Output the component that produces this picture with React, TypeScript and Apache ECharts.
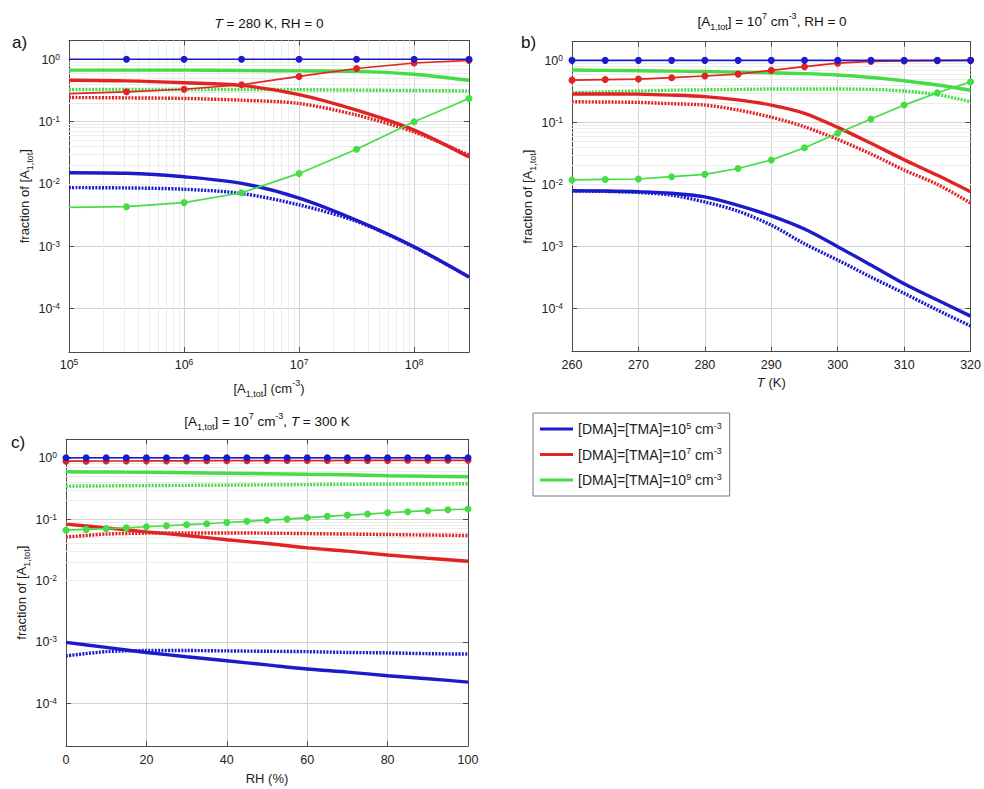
import React, { useEffect, useRef } from 'react';
import * as echarts from 'echarts';

const FONT = '"Liberation Sans", Arial, Helvetica, sans-serif';
const BLUE = '#1b1bc9';
const RED = '#e02424';
const GREEN = '#46dc46';
const AXIS = '#4a4a4a';
const GRID_MAJOR = '#d2d2d2';
const GRID_MINOR = '#ececec';

// ---------- Panel a: x = [A1,tot] (cm^-3), T = 280 K, RH = 0 ----------
const A_X = [1e5, 3.16e5, 1e6, 3.16e6, 1e7, 3.16e7, 1e8, 3e8];
const A_BLUE_MARK = [1.0, 1.0, 1.0, 1.0, 1.0, 1.0, 1.0, 1.0];
const A_BLUE_SOLID = [0.0151, 0.0148, 0.013, 0.0102, 0.0059, 0.0026, 0.00098, 0.00032];
const A_BLUE_DOT = [0.0087, 0.0086, 0.0082, 0.007, 0.0046, 0.0025, 0.00096, 0.00032];
const A_RED_MARK = [0.28, 0.3, 0.33, 0.39, 0.53, 0.71, 0.87, 0.96];
const A_RED_SOLID = [0.46, 0.45, 0.42, 0.38, 0.27, 0.152, 0.073, 0.027];
const A_RED_DOT = [0.243, 0.24, 0.235, 0.22, 0.195, 0.127, 0.068, 0.029];
const A_GREEN_MARK = [0.0042, 0.0043, 0.005, 0.0072, 0.0147, 0.036, 0.099, 0.234];
const A_GREEN_SOLID = [0.67, 0.67, 0.67, 0.66, 0.65, 0.64, 0.575, 0.46];
const A_GREEN_DOT = [0.327, 0.327, 0.327, 0.327, 0.325, 0.32, 0.315, 0.31];

// ---------- Panel b: x = T (K), [A1,tot] = 1e7, RH = 0 ----------
const B_X = [260, 265, 270, 275, 280, 285, 290, 295, 300, 305, 310, 315, 320];
const B_BLUE_MARK = [1.0, 1.0, 1.0, 1.0, 1.0, 1.0, 1.0, 1.0, 1.0, 1.0, 1.0, 1.0, 1.0];
const B_BLUE_SOLID = [0.0079, 0.0078, 0.0076, 0.0072, 0.0063, 0.0046, 0.0031, 0.0019, 0.00099, 0.0005, 0.00025, 0.000136, 0.000075];
const B_BLUE_DOT = [0.0078, 0.0077, 0.0074, 0.0067, 0.0052, 0.0037, 0.0022, 0.0011, 0.0006, 0.00032, 0.000175, 0.000094, 0.000052];
const B_RED_MARK = [0.48, 0.49, 0.5, 0.525, 0.56, 0.6, 0.69, 0.79, 0.9, 0.96, 0.98, 0.99, 1.0];
const B_RED_SOLID = [0.287, 0.287, 0.285, 0.275, 0.26, 0.23, 0.19, 0.14, 0.083, 0.046, 0.025, 0.014, 0.0076];
const B_RED_DOT = [0.215, 0.213, 0.21, 0.2, 0.19, 0.158, 0.121, 0.085, 0.053, 0.031, 0.017, 0.01, 0.005];
const B_GREEN_MARK = [0.0118, 0.012, 0.0122, 0.0133, 0.0145, 0.018, 0.0247, 0.039, 0.0667, 0.113, 0.19, 0.3, 0.45];
const B_GREEN_SOLID = [0.7, 0.69, 0.68, 0.67, 0.66, 0.645, 0.63, 0.61, 0.58, 0.53, 0.47, 0.4, 0.33];
const B_GREEN_DOT = [0.3, 0.31, 0.32, 0.33, 0.335, 0.34, 0.345, 0.345, 0.345, 0.34, 0.32, 0.28, 0.215];

// ---------- Panel c: x = RH (%), [A1,tot] = 1e7, T = 300 K ----------
const C_X_MARK = [0, 5, 10, 15, 20, 25, 30, 35, 40, 45, 50, 55, 60, 65, 70, 75, 80, 85, 90, 95, 100];
const C_BLUE_MARK = [1.0, 1.0, 1.0, 1.0, 1.0, 1.0, 1.0, 1.0, 1.0, 1.0, 1.0, 1.0, 1.0, 1.0, 1.0, 1.0, 1.0, 1.0, 1.0, 1.0, 1.0];
const C_RED_MARK = [0.88, 0.88, 0.885, 0.885, 0.89, 0.89, 0.89, 0.895, 0.895, 0.895, 0.9, 0.9, 0.9, 0.9, 0.905, 0.905, 0.905, 0.91, 0.91, 0.91, 0.91];
const C_GREEN_MARK = [0.066, 0.068, 0.07, 0.072, 0.075, 0.078, 0.081, 0.084, 0.088, 0.092, 0.096, 0.1, 0.106, 0.111, 0.116, 0.121, 0.127, 0.132, 0.137, 0.142, 0.146];
const C_X_LINE = [0, 10, 20, 30, 40, 50, 60, 70, 80, 90, 100];
const C_BLUE_SOLID = [0.00098, 0.00081, 0.00067, 0.00057, 0.00049, 0.00042, 0.00036, 0.00032, 0.00028, 0.00025, 0.00022];
const C_BLUE_DOT = [0.00059, 0.00069, 0.00072, 0.00072, 0.00071, 0.0007, 0.00069, 0.00067, 0.00066, 0.00064, 0.00063];
const C_RED_SOLID = [0.083, 0.072, 0.062, 0.054, 0.046, 0.04, 0.034, 0.03, 0.026, 0.023, 0.0206];
const C_RED_DOT = [0.051, 0.057, 0.059, 0.0595, 0.0595, 0.059, 0.058, 0.057, 0.056, 0.055, 0.054];
const C_GREEN_SOLID = [0.59, 0.585, 0.58, 0.57, 0.56, 0.55, 0.54, 0.53, 0.51, 0.5, 0.49];
const C_GREEN_DOT = [0.345, 0.348, 0.352, 0.355, 0.358, 0.362, 0.365, 0.368, 0.371, 0.374, 0.377];

// ---------- axes / legend texts ----------
const Y_MIN = 2e-5;
const Y_MAX = 2;
const A_X_MIN = 1e5;
const A_X_MAX = 3e8;
const MINOR_MULT = [2, 3, 4, 5, 6, 7, 8, 9];
const Y_DECADES = [-5, -4, -3, -2, -1, 0];
const A_DECADES = [5, 6, 7, 8];
const SERIES_NAMES = ['c5', 'c7', 'c9'];
const LEGEND_LABELS: Record<string, string> = {
  c5: '[DMA]=[TMA]=10{s|5} cm{s|-3}',
  c7: '[DMA]=[TMA]=10{s|7} cm{s|-3}',
  c9: '[DMA]=[TMA]=10{s|9} cm{s|-3}',
};

const Y_MINOR = Y_DECADES.flatMap((e) => MINOR_MULT.map((m) => m * Math.pow(10, e))).filter(
  (v) => v > Y_MIN * 1.001 && v < Y_MAX * 0.999
);
const A_X_MINOR = A_DECADES.flatMap((e) => MINOR_MULT.map((m) => m * Math.pow(10, e))).filter(
  (v) => v < A_X_MAX * 0.999
);

const powFmt = (v: number) => {
  const e = Math.log10(v);
  const r = Math.round(e);
  if (Math.abs(e - r) > 1e-6) return '';
  return `{b|10}{s|${r}}`;
};

const tickRich = {
  b: { fontFamily: FONT, fontSize: 12.5, color: '#222', lineHeight: 14, verticalAlign: 'bottom' },
  s: { fontFamily: FONT, fontSize: 8.5, color: '#222', lineHeight: 9, verticalAlign: 'top', padding: [0, 0, 12, 0] },
};

const nameRich = {
  sub: { fontFamily: FONT, fontSize: 9, color: '#222', lineHeight: 10, verticalAlign: 'bottom' },
  sup: { fontFamily: FONT, fontSize: 9, color: '#222', lineHeight: 10, verticalAlign: 'top' },
  i: { fontFamily: FONT, fontSize: 13, color: '#222', fontStyle: 'italic', lineHeight: 20 },
};

const nameStyle = {
  fontFamily: FONT,
  fontSize: 13,
  color: '#222',
  lineHeight: 20,
  rich: nameRich,
};

function mainX(gridIndex: number, cfg: any) {
  return {
    gridIndex,
    position: 'bottom',
    ...cfg,
    axisLine: { show: true, onZero: false, lineStyle: { color: AXIS, width: 1 } },
    axisTick: { show: true, inside: true, length: 5, lineStyle: { color: AXIS } },
    splitLine: { show: true, lineStyle: { color: GRID_MAJOR, width: 1 } },
    nameLocation: 'middle',
    nameTextStyle: nameStyle,
  };
}
function topX(gridIndex: number, cfg: any) {
  return {
    gridIndex,
    position: 'top',
    ...cfg,
    axisLine: { show: true, onZero: false, lineStyle: { color: AXIS, width: 1 } },
    axisTick: { show: true, inside: true, length: 5, lineStyle: { color: AXIS } },
    axisLabel: { show: false },
    splitLine: { show: false },
  };
}
function mainY(gridIndex: number, nameGap: number) {
  return {
    gridIndex,
    type: 'log',
    min: Y_MIN,
    max: Y_MAX,
    position: 'left',
    axisLine: { show: true, onZero: false, lineStyle: { color: AXIS, width: 1 } },
    axisTick: { show: true, inside: true, length: 5, lineStyle: { color: AXIS } },
    axisLabel: { formatter: powFmt, rich: tickRich, margin: 9 },
    splitLine: { show: true, lineStyle: { color: GRID_MAJOR, width: 1 } },
    name: 'fraction of [A{sub|1,tot}]',
    nameLocation: 'middle',
    nameRotate: 90,
    nameGap,
    nameTextStyle: nameStyle,
  };
}
function rightY(gridIndex: number) {
  return {
    gridIndex,
    type: 'log',
    min: Y_MIN,
    max: Y_MAX,
    position: 'right',
    axisLine: { show: true, onZero: false, lineStyle: { color: AXIS, width: 1 } },
    axisTick: { show: true, inside: true, length: 5, lineStyle: { color: AXIS } },
    axisLabel: { show: false },
    splitLine: { show: false },
  };
}

function pairs(xs: number[], ys: number[]) {
  return xs.map((x, i) => [x, ys[i]]);
}

function solid(name: string, color: string, ax: number, xs: number[], ys: number[]) {
  return {
    type: 'line', name, xAxisIndex: ax, yAxisIndex: ax, data: pairs(xs, ys),
    symbol: 'none', smooth: 0.3, silent: true, z: 3,
    lineStyle: { color, width: 3.4 }, itemStyle: { color },
  };
}
function dotted(name: string, color: string, ax: number, xs: number[], ys: number[]) {
  return {
    type: 'line', name, xAxisIndex: ax, yAxisIndex: ax, data: pairs(xs, ys),
    symbol: 'none', smooth: 0.3, silent: true, z: 3,
    lineStyle: { color, width: 3.4, type: [2, 1.3] }, itemStyle: { color },
  };
}
function marked(name: string, color: string, ax: number, xs: number[], ys: number[], skipFirst = false) {
  return {
    type: 'line', name, xAxisIndex: ax, yAxisIndex: ax,
    data: xs.map((x, i) => (skipFirst && i === 0 ? { value: [x, ys[i]], symbol: 'none' } : [x, ys[i]])),
    symbol: 'circle', symbolSize: 7, showAllSymbol: true, silent: true, z: 4,
    lineStyle: { color, width: 1.7 }, itemStyle: { color },
  };
}
function gridLines(ax: number, xMinor: number[]) {
  return {
    type: 'line', name: 'grid', xAxisIndex: ax, yAxisIndex: ax, data: [], silent: true,
    markLine: {
      silent: true, symbol: 'none', z: 1, animation: false,
      label: { show: false },
      lineStyle: { color: GRID_MINOR, width: 1, type: 'solid' },
      emphasis: { disabled: true },
      data: [...Y_MINOR.map((v) => ({ yAxis: v })), ...xMinor.map((v) => ({ xAxis: v }))],
    },
  };
}

const titleRich = {
  i: { fontFamily: FONT, fontSize: 13.5, fill: '#111', fontStyle: 'italic', lineHeight: 20 },
  sub: { fontFamily: FONT, fontSize: 9, fill: '#111', lineHeight: 10, verticalAlign: 'bottom' },
  sup: { fontFamily: FONT, fontSize: 9, fill: '#111', lineHeight: 10, verticalAlign: 'top' },
};
function titleText(x: number, y: number, text: string) {
  return {
    type: 'text', x, y, silent: true,
    style: {
      text, fontFamily: FONT, fontSize: 13.5, fill: '#111', lineHeight: 20,
      align: 'center', verticalAlign: 'middle', textAlign: 'center', textVerticalAlign: 'middle',
      rich: titleRich,
    },
  };
}
function letter(x: number, y: number, text: string) {
  return {
    type: 'text', x, y, silent: true,
    style: {
      text, fontFamily: FONT, fontSize: 17, fill: '#111',
      align: 'left', verticalAlign: 'middle', textAlign: 'left', textVerticalAlign: 'middle',
    },
  };
}

export default function App() {
  const ref = useRef<HTMLDivElement>(null);
  useEffect(() => {
    document.body.style.margin = '0';
    if (!ref.current) return;
    const chart = echarts.init(ref.current, undefined, { renderer: 'svg' });
    const [n5, n7, n9] = SERIES_NAMES;
    const option: any = {
      animation: false,
      backgroundColor: '#ffffff',
      grid: [
        { left: 69, top: 40.5, width: 400, height: 311.5 },
        { left: 572, top: 41.7, width: 401, height: 310 },
        { left: 66, top: 439.3, width: 402, height: 310.7 },
      ],
      xAxis: [
        mainX(0, {
          type: 'log', min: A_X_MIN, max: A_X_MAX,
          axisLabel: { formatter: powFmt, rich: tickRich, margin: 5 },
          name: '[A{sub|1,tot}] (cm{sup|-3})', nameGap: 20,
        }),
        mainX(1, {
          type: 'value', min: 260, max: 320, interval: 10,
          axisLabel: { fontFamily: FONT, fontSize: 12.5, color: '#222', margin: 7 },
          name: '{i|T} (K)', nameGap: 21,
        }),
        mainX(2, {
          type: 'value', min: 0, max: 100, interval: 20,
          axisLabel: { fontFamily: FONT, fontSize: 12.5, color: '#222', margin: 7 },
          name: 'RH (%)', nameGap: 22,
        }),
        topX(0, { type: 'log', min: A_X_MIN, max: A_X_MAX }),
        topX(1, { type: 'value', min: 260, max: 320, interval: 10 }),
        topX(2, { type: 'value', min: 0, max: 100, interval: 20 }),
      ],
      yAxis: [mainY(0, 35), mainY(1, 34), mainY(2, 33), rightY(0), rightY(1), rightY(2)],
      legend: {
        data: SERIES_NAMES,
        orient: 'vertical',
        left: 533,
        top: 413,
        padding: [8, 8, 8, 7],
        itemGap: 9.5,
        itemWidth: 33,
        itemHeight: 3,
        icon: 'rect',
        borderColor: '#7a7a7a',
        borderWidth: 1,
        backgroundColor: '#ffffff',
        selectedMode: false,
        formatter: (name: string) => LEGEND_LABELS[name],
        textStyle: {
          fontFamily: FONT, fontSize: 14, color: '#222', lineHeight: 16,
          rich: { s: { fontFamily: FONT, fontSize: 9, color: '#222', lineHeight: 9, verticalAlign: 'top' } },
        },
      },
      graphic: [
        titleText(269, 23, '{i|T} = 280 K, RH = 0'),
        titleText(772, 21, '[A{sub|1,tot}] = 10{sup|7} cm{sup|-3}, RH = 0'),
        titleText(267, 421, '[A{sub|1,tot}] = 10{sup|7} cm{sup|-3}, {i|T} = 300 K'),
        letter(12, 42, 'a)'),
        letter(521, 42, 'b)'),
        letter(11, 442, 'c)'),
      ],
      series: [
        gridLines(0, A_X_MINOR),
        gridLines(1, []),
        gridLines(2, []),
        // panel a
        solid(n9, GREEN, 0, A_X, A_GREEN_SOLID),
        dotted(n9, GREEN, 0, A_X, A_GREEN_DOT),
        marked(n9, GREEN, 0, A_X, A_GREEN_MARK, true),
        solid(n7, RED, 0, A_X, A_RED_SOLID),
        dotted(n7, RED, 0, A_X, A_RED_DOT),
        marked(n7, RED, 0, A_X, A_RED_MARK, true),
        solid(n5, BLUE, 0, A_X, A_BLUE_SOLID),
        dotted(n5, BLUE, 0, A_X, A_BLUE_DOT),
        marked(n5, BLUE, 0, A_X, A_BLUE_MARK, true),
        // panel b
        solid(n9, GREEN, 1, B_X, B_GREEN_SOLID),
        dotted(n9, GREEN, 1, B_X, B_GREEN_DOT),
        marked(n9, GREEN, 1, B_X, B_GREEN_MARK),
        solid(n7, RED, 1, B_X, B_RED_SOLID),
        dotted(n7, RED, 1, B_X, B_RED_DOT),
        marked(n7, RED, 1, B_X, B_RED_MARK),
        solid(n5, BLUE, 1, B_X, B_BLUE_SOLID),
        dotted(n5, BLUE, 1, B_X, B_BLUE_DOT),
        marked(n5, BLUE, 1, B_X, B_BLUE_MARK),
        // panel c
        solid(n9, GREEN, 2, C_X_LINE, C_GREEN_SOLID),
        dotted(n9, GREEN, 2, C_X_LINE, C_GREEN_DOT),
        marked(n9, GREEN, 2, C_X_MARK, C_GREEN_MARK),
        solid(n7, RED, 2, C_X_LINE, C_RED_SOLID),
        dotted(n7, RED, 2, C_X_LINE, C_RED_DOT),
        marked(n7, RED, 2, C_X_MARK, C_RED_MARK),
        solid(n5, BLUE, 2, C_X_LINE, C_BLUE_SOLID),
        dotted(n5, BLUE, 2, C_X_LINE, C_BLUE_DOT),
        marked(n5, BLUE, 2, C_X_MARK, C_BLUE_MARK),
      ],
    };
    chart.setOption(option);
    return () => chart.dispose();
  }, []);
  return <div ref={ref} style={{ width: 984, height: 789 }} />;
}
